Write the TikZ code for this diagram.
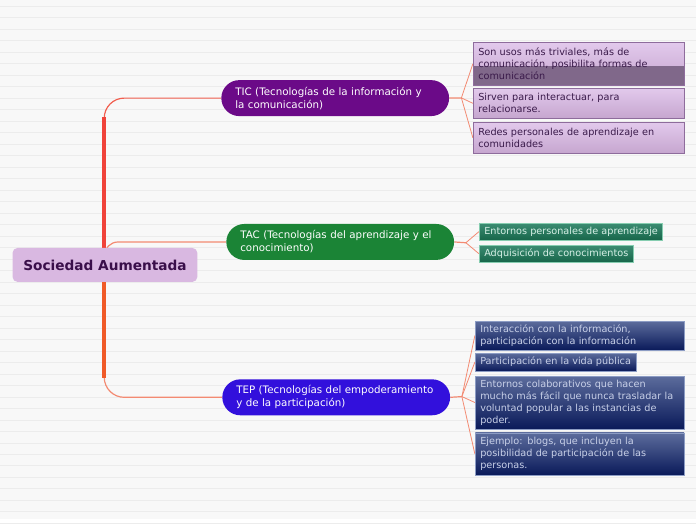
\documentclass[tikz,border=0pt]{standalone}
\usepackage{fontspec}
\setmainfont{DejaVu Sans}
\usetikzlibrary{calc}
\pgfdeclarelayer{paper}
\pgfdeclarelayer{back}
\pgfsetlayers{paper,back,main}
\definecolor{bgc}{HTML}{F8F8F8}
\definecolor{bgline}{HTML}{ECECEC}
\definecolor{rootfill}{HTML}{D9B8E1}
\definecolor{roottext}{HTML}{3A0F4A}
\definecolor{ticfill}{HTML}{6B0A88}
\definecolor{tacfill}{HTML}{1B8436}
\definecolor{tepfill}{HTML}{3210DC}
\definecolor{trunkred}{HTML}{F0433A}
\definecolor{trunkorange}{HTML}{F05A28}
\definecolor{connc}{HTML}{F38A72}
\definecolor{lavtop}{HTML}{E2C9EC}
\definecolor{lavbot}{HTML}{C6A6CF}
\definecolor{lavborder}{HTML}{8E6C9C}
\definecolor{lavtext}{HTML}{3A1A4A}
\definecolor{lavdark}{HTML}{80688A}
\definecolor{grtop}{HTML}{3C8C72}
\definecolor{grbot}{HTML}{17664A}
\definecolor{grborder}{HTML}{86CDB0}
\definecolor{grtext}{HTML}{D6F0E6}
\definecolor{bltop}{HTML}{5C6C9C}
\definecolor{blbot}{HTML}{0A1A5A}
\definecolor{blborder}{HTML}{8C9CC4}
\definecolor{bltext}{HTML}{C8D0E8}
\tikzset{
  pill/.style={draw=none, rounded corners=18pt, minimum height=36pt, minimum width=228pt,
    text width=200pt, inner xsep=14pt, inner ysep=0pt, align=left, text=white,
    font=\fontsize{10.3}{13}\selectfont, anchor=north west},
  leaf/.style={anchor=north west, inner xsep=5pt, inner ysep=0pt, align=left,
    font=\fontsize{9.7}{12}\selectfont, line width=0.8pt},
  lav/.style={leaf, draw=lavborder, top color=lavtop, bottom color=lavbot, text=lavtext},
  grn/.style={leaf, draw=grborder, top color=grtop, bottom color=grbot, text=grtext},
  blu/.style={leaf, draw=blborder, top color=bltop, bottom color=blbot, text=bltext},
  conn/.style={draw=connc, line width=1.2pt},
  fan/.style={draw=connc, line width=0.8pt},
}
\begin{document}
\begin{tikzpicture}[x=1pt,y=-1pt]
\begin{pgfonlayer}{paper}
\fill[bgc] (0,0) rectangle (696,520);
\foreach \i in {0,...,45} {
  \draw[bgline, line width=0.7pt] (0,{6.3+11.5*\i}) -- (696,{6.3+11.5*\i});
}
\end{pgfonlayer}
\useasboundingbox (0,0) rectangle (696,520);
% nodes
\node[fill=rootfill, rounded corners=5pt, minimum width=185pt, minimum height=34pt, anchor=north west,
  text=roottext, font=\fontsize{13.7}{15}\selectfont\bfseries] (root) at (12,248) {Sociedad Aumentada};
\node[pill, fill=ticfill] (tic) at (221,80) {TIC (Tecnologías de la información y\\la comunicación)};
\node[pill, fill=tacfill] (tac) at (226,224) {TAC (Tecnologías del aprendizaje y el\\conocimiento)};
\node[pill, fill=tepfill] (tep) at (222,379.5) {TEP (Tecnologías del empoderamiento\\y de la participación)};
\coordinate (trunk) at (104,265);
\coordinate (tacfork) at (104,262);
\begin{pgfonlayer}{back}
\draw[conn, draw=trunkred!60!connc, rounded corners=20pt] (trunk) |- (tic.west);
\draw[conn, rounded corners=20pt] (trunk) |- (tep.west);
\draw[conn, rounded corners=14pt] (tacfork) |- (tac.west);
\draw[trunkred, line width=4.5pt] (104,117) -- (104,262);
\draw[trunkorange, line width=4.5pt] (104,262) -- (104,378);
\end{pgfonlayer}
% TIC leaves
\node[lav, minimum width=211pt, minimum height=43pt, text width=201pt,
  path picture={\fill[lavdark] ($(path picture bounding box.south west)+(0,-19)$) rectangle (path picture bounding box.south east);}]
  (c11) at (473,42) {Son usos más triviales, más de\\comunicación, posibilita formas de\\comunicación};
\node[lav, minimum width=211pt, minimum height=30pt, text width=201pt] (c12) at (473,88) {Sirven para interactuar, para\\relacionarse.};
\node[lav, minimum width=211pt, minimum height=31pt, text width=201pt] (c13) at (473,122) {Redes personales de aprendizaje en\\comunidades};
% TAC leaves
\node[grn, minimum height=17pt] (c21) at (479,223) {Entornos personales de aprendizaje};
\node[grn, minimum height=17pt] (c22) at (479,245) {Adquisición de conocimientos};
% TEP leaves
\node[blu, minimum width=209pt, minimum height=29pt, text width=199pt] (c31) at (475,321) {Interacción con la información,\\participación con la información};
\node[blu, minimum height=18pt] (c32) at (475,353) {Participación en la vida pública};
\node[blu, minimum width=209pt, minimum height=53pt, text width=199pt] (c33) at (475,376) {Entornos colaborativos que hacen\\mucho más fácil que nunca trasladar la\\voluntad popular a las instancias de\\poder.};
\node[blu, minimum width=209pt, minimum height=42pt, text width=199pt] (c34) at (475,433) {Ejemplo: blogs, que incluyen la\\posibilidad de participación de las\\personas.};
% fans
\coordinate (ticj) at (461.5,98);
\coordinate (tacj) at (466,243);
\coordinate (tepj) at (462,397);
\begin{pgfonlayer}{back}
\draw[fan, line width=1.2pt] (tic.east) -- (ticj);
\draw[fan] (ticj) -- (c11.west);
\draw[fan] (ticj) -- (c12.west);
\draw[fan] (ticj) -- (c13.west);
\draw[fan, line width=1.2pt] (tac.east) -- (tacj);
\draw[fan] (tacj) -- (c21.west);
\draw[fan] (tacj) -- (c22.west);
\draw[fan, line width=1.2pt] (tep.east) -- (tepj);
\draw[fan] (tepj) -- (c31.west);
\draw[fan] (tepj) -- (c32.west);
\draw[fan] (tepj) -- (c33.west);
\draw[fan] (tepj) -- (c34.west);
\end{pgfonlayer}
\end{tikzpicture}
\end{document}
